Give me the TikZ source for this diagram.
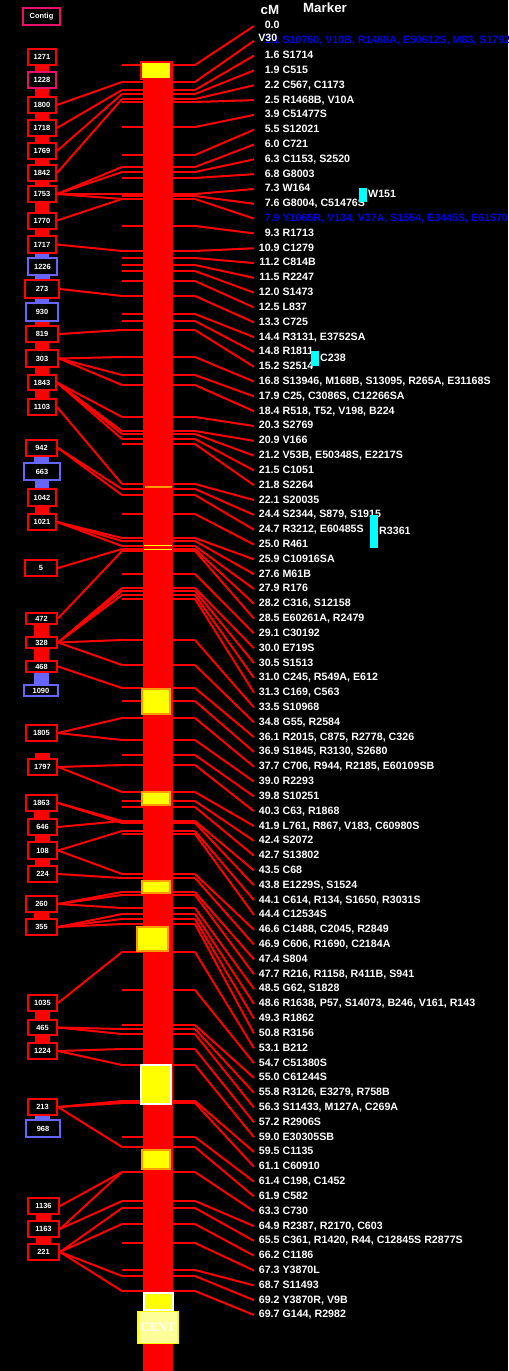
\documentclass[tikz,border=0pt]{standalone}
\usepackage{fontspec}
\setmainfont{Liberation Sans}
\newfontfamily\centfont{Liberation Serif}
\usetikzlibrary{positioning}
\definecolor{markblue}{HTML}{0000E6}
\definecolor{ctgblue}{HTML}{6666FF}
\definecolor{ctgpink}{HTML}{E8106A}
\definecolor{centfill}{HTML}{FFFF99}
\definecolor{bandorange}{HTML}{FF9900}
\definecolor{bandyellow}{HTML}{FFFF00}
\definecolor{flankcyan}{HTML}{00FFFF}

\tikzset{
  link/.style={draw=red, line width=1.5pt},
  joint/.style={draw=#1, line width=11pt},
  joint/.default=red,
  ctg/.style={draw=red, line width=1.5pt, fill=black, text=white,
    font=\fontsize{5.6}{6}\selectfont\bfseries, inner sep=0pt},
  mk/.style={anchor=west, inner sep=0pt, text height=6pt, text depth=1.6pt,
    font=\fontsize{8}{9}\selectfont\bfseries},
  cmk/.style={fill=flankcyan, inner sep=0pt, minimum width=6pt},
  yband/.style={fill=bandyellow, draw=bandorange, line width=0.8pt},
  cent/.style={fill=centfill, draw=bandyellow, line width=1pt, text=white,
    font=\centfont\fontsize{9.5}{10}\selectfont\bfseries,
    minimum width=30pt, minimum height=24pt, inner sep=0pt}
}

\begin{document}
\begin{tikzpicture}[x=0.75pt, y=-0.75pt]
  \fill[black] (0,0) rectangle (508,1371);
  \useasboundingbox (0,0) rectangle (508,1371);

  % headers
  \node[text=white, font=\fontsize{10}{11}\selectfont\bfseries] (hcm) at (270,10) {cM};
  \node[text=white, font=\fontsize{10}{11}\selectfont\bfseries] (hmark) at (325,8) {Marker};

  % bands and markers
  \foreach \b/\c/\m/\col [count=\i from 0] in {
    65/0.0/{}/white, 82/1.1/{S10760, V10B, R1468A, E50612S, M83, S1792}/markblue,
    90/1.6/{S1714}/white, 94/1.9/{C515}/white, 99/2.2/{C567, C1173}/white,
    102/2.5/{R1468B, V10A}/white, 127/3.9/{C51477S}/white, 155/5.5/{S12021}/white,
    167/6.0/{C721}/white, 172/6.3/{C1153, S2520}/white, 178/6.8/{G8003}/white,
    194/7.3/{W164}/white, 196/7.6/{G8004, C51476S}/white,
    199/7.9/{Y1065R, V134, V37A, S1554, E3445S, E61570}/markblue,
    226/9.3/{R1713}/white, 251/10.9/{C1279}/white, 258/11.2/{C814B}/white,
    265/11.5/{R2247}/white, 271/12.0/{S1473}/white, 281/12.5/{L837}/white,
    296/13.3/{C725}/white, 314/14.4/{R3131, E3752SA}/white, 321/14.8/{R1811}/white,
    330/15.2/{S2514}/white, 357/16.8/{S13946, M168B, S13095, R265A, E31168S}/white,
    375/17.9/{C25, C3086S, C12266SA}/white, 385/18.4/{R518, T52, V198, B224}/white,
    417/20.3/{S2769}/white, 431/20.9/{V166}/white, 434/21.2/{V53B, E50348S, E2217S}/white,
    439/21.5/{C1051}/white, 444/21.8/{S2264}/white, 484/22.1/{S20035}/white,
    489/24.4/{S2344, S879, S1915}/white, 495/24.7/{R3212, E60485S}/white,
    514/25.0/{R461}/white, 538/25.9/{C10916SA}/white, 541/27.6/{M61B}/white,
    546/27.9/{R176}/white, 549/28.2/{C316, S12158}/white, 551/28.5/{E60261A, R2479}/white,
    574/29.1/{C30192}/white, 588/30.0/{E719S}/white, 591/30.5/{S1513}/white,
    595/31.0/{C245, R549A, E612}/white, 599/31.3/{C169, C563}/white,
    640/33.5/{S10968}/white, 665/34.8/{G55, R2584}/white,
    688/36.1/{R2015, C875, R2778, C326}/white, 701/36.9/{S1845, R3130, S2680}/white,
    718/37.7/{C706, R944, R2185, E60109SB}/white, 740/39.0/{R2293}/white,
    755/39.8/{S10251}/white, 765/40.3/{C63, R1868}/white,
    792/41.9/{L761, R867, V183, C60980S}/white, 801/42.4/{S2072}/white,
    807/42.7/{S13802}/white, 821/43.5/{C68}/white, 823/43.8/{E1229S, S1524}/white,
    831/44.1/{C614, R134, S1650, R3031S}/white, 834/44.4/{C12534S}/white,
    874/46.6/{C1488, C2045, R2849}/white, 878/46.9/{C606, R1690, C2184A}/white,
    892/47.4/{S804}/white, 895/47.7/{R216, R1158, R411B, S941}/white,
    908/48.5/{G62, S1828}/white, 914/48.6/{R1638, P57, S14073, B246, V161, R143}/white,
    919/49.3/{R1862}/white, 924/50.8/{R3156}/white, 952/53.1/{B212}/white,
    990/54.7/{C51380S}/white, 1025/55.0/{C61244S}/white,
    1029/55.8/{R3126, E3279, R758B}/white, 1034/56.3/{S11433, M127A, C269A}/white,
    1049/57.2/{R2906S}/white, 1065/59.0/{E30305SB}/white, 1101/59.5/{C1135}/white,
    1103/61.1/{C60910}/white, 1137/61.4/{C198, C1452}/white, 1147/61.9/{C582}/white,
    1172/63.3/{C730}/white, 1201/64.9/{R2387, R2170, C603}/white,
    1208/65.5/{C361, R1420, R44, C12845S R2877S}/white, 1224/66.2/{C1186}/white,
    1243/67.3/{Y3870L}/white, 1270/68.7/{S11493}/white, 1276/69.2/{Y3870R, V9B}/white,
    1291/69.7/{G144, R2982}/white}
  {
    \coordinate (bL\i) at (122,\b);
    \coordinate (bR\i) at (195,\b);
    \draw[link] (bL\i) -- (bR\i);
    \node[mk, text=\col] (m\i) at (254,{26+14.816*\i}) {\makebox[19pt][r]{\c}\ \m};
    \draw[link] (bR\i) -- (m\i.west);
  }
  \node[mk, text=white] (v30) at (258,39) {V30};

  % chromosome
  \fill[red] (143,61) rectangle (173,1371);
  \filldraw[fill=bandyellow, draw=red, line width=1pt] (141,62) rectangle (171,79);
  \draw[bandorange, line width=1pt] (145,487) -- (172,487);
  \draw[bandyellow, line width=0.6pt] (144,545) -- (172,545) (144,549) -- (172,549);
  \filldraw[yband] (142,689) rectangle (170,714);
  \filldraw[yband] (142,792) rectangle (170,805);
  \filldraw[yband] (142,881) rectangle (170,893);
  \filldraw[yband] (137,927) rectangle (168,951);
  \filldraw[fill=bandyellow, draw=white, line width=1pt] (141,1065) rectangle (171,1104);
  \filldraw[yband] (142,1150) rectangle (170,1169);
  \filldraw[fill=bandyellow, draw=white, line width=1.5pt] (144,1293) rectangle (173,1310);
  \node[cent] (cent) at (158,1327.5) {CENT};

  % flanking markers
  \node[cmk, minimum height=10.5pt] (qW151) at (363,195) {};
  \node[mk, text=white, right=0.5pt of qW151] (tW151) {W151};
  \node[cmk, minimum height=11.25pt] (qC238) at (315,358.5) {};
  \node[mk, text=white, right=0.5pt of qC238] (tC238) {C238};
  \node[cmk, minimum height=24.75pt] (qR3361) at (374,531.5) {};
  \node[mk, text=white, right=0.5pt of qR3361] (tR3361) {R3361};

  % contigs
  \node[ctg, draw=ctgpink, minimum width=27.75pt, minimum height=12.75pt] (contig) at (41.5,16.5) {Contig};
  \foreach \n/\x/\y/\w/\h/\col in {
    1271/42/56.5/30/18/red, 1228/42/80/30/18/ctgpink, 1800/42/105/30/18/red,
    1718/42/128/30/18/red, 1769/42/151/30/18/red, 1842/42/173/30/18/red,
    1753/42/194/30/18/red, 1770/42/220.5/30/18/red, 1717/42/244.5/30/19/red,
    1226/42.5/266.5/31/19/ctgblue, 273/42/289/36/20/red, 930/42/312/34/20/ctgblue,
    819/42/334/34/18/red, 303/42/358.5/34/19/red, 1843/42/382.5/30/17/red,
    1103/42/407/30/18/red, 942/41.5/448/33/18/red, 663/42/471.5/38/19/ctgblue,
    1042/42/497.5/30/19/red, 1021/42/522/30/18/red, 5/41/568/34/18/red,
    472/41.5/618.5/33/13/red, 328/41.5/642.5/33/13/red, 468/41.5/666.5/33/13/red,
    1090/41/690.5/36/13/ctgblue, 1805/41.5/733/33/18/red, 1797/42.5/767/31/18/red,
    1863/41.5/803/33/18/red, 646/42.5/827/31/18/red, 108/42.5/850.5/31/19/red,
    224/42.5/874/31/18/red, 260/41.5/904/33/18/red, 355/41.5/927/33/18/red,
    1035/42.5/1003/31/18/red, 465/42.5/1027.5/31/17/red, 1224/42.5/1051/31/18/red,
    213/42.5/1107/31/18/red, 968/43/1128.5/36/19/ctgblue, 1136/43.5/1206/33/18/red,
    1163/43.5/1229/33/18/red, 221/43.5/1252/33/18/red}
    \node[ctg, draw=\col, minimum width={(\w-2)*0.75pt}, minimum height={(\h-2)*0.75pt}]
      (c\n) at (\x,\y) {\n};

  % joints between neighbouring contigs
  \foreach \p/\q/\col in {1271/1228/red, 1228/1800/red, 1800/1718/red, 1718/1769/red,
    1769/1842/red, 1842/1753/red, 1753/1770/red, 1770/1717/red, 1717/1226/ctgblue,
    1226/273/ctgblue, 273/930/ctgblue, 930/819/red, 819/303/red, 303/1843/red,
    1843/1103/red, 942/663/ctgblue, 663/1042/ctgblue, 1042/1021/red, 472/328/red,
    328/468/red, 468/1090/ctgblue, 1863/646/red, 646/108/red, 108/224/red,
    260/355/red, 1035/465/red, 465/1224/red, 213/968/ctgblue, 1136/1163/red,
    1163/221/red}
    \draw[joint=\col] (c\p.south) -- (c\p.south |- c\q.north);
  \draw[joint] (c1797.north) -- ++(0,-5);

  % contig to band links
  \foreach \c/\l in {1800/{1}, 1718/{2}, 1769/{3}, 1842/{4}, 1753/{8,9,11,13},
    1770/{13}, 1717/{15}, 273/{20}, 819/{23}, 303/{24,25,26}, 1843/{27,28,29,30},
    1103/{32}, 942/{33,34}, 1021/{36,37,38}, 5/{39}, 472/{40}, 328/{42,43,44,46,47},
    468/{48}, 1805/{50,51}, 1797/{53,54}, 1863/{57,58}, 646/{57}, 108/{59,61},
    224/{62}, 260/{63,64,65}, 355/{66,67,68}, 1035/{69}, 465/{72,73}, 1224/{74,75},
    213/{76,77,79}, 1136/{80}, 1163/{80,81}, 221/{82,83,86,87}}
    \foreach \k in \l
      \draw[link] (c\c.east) -- (bL\k);
\end{tikzpicture}
\end{document}
